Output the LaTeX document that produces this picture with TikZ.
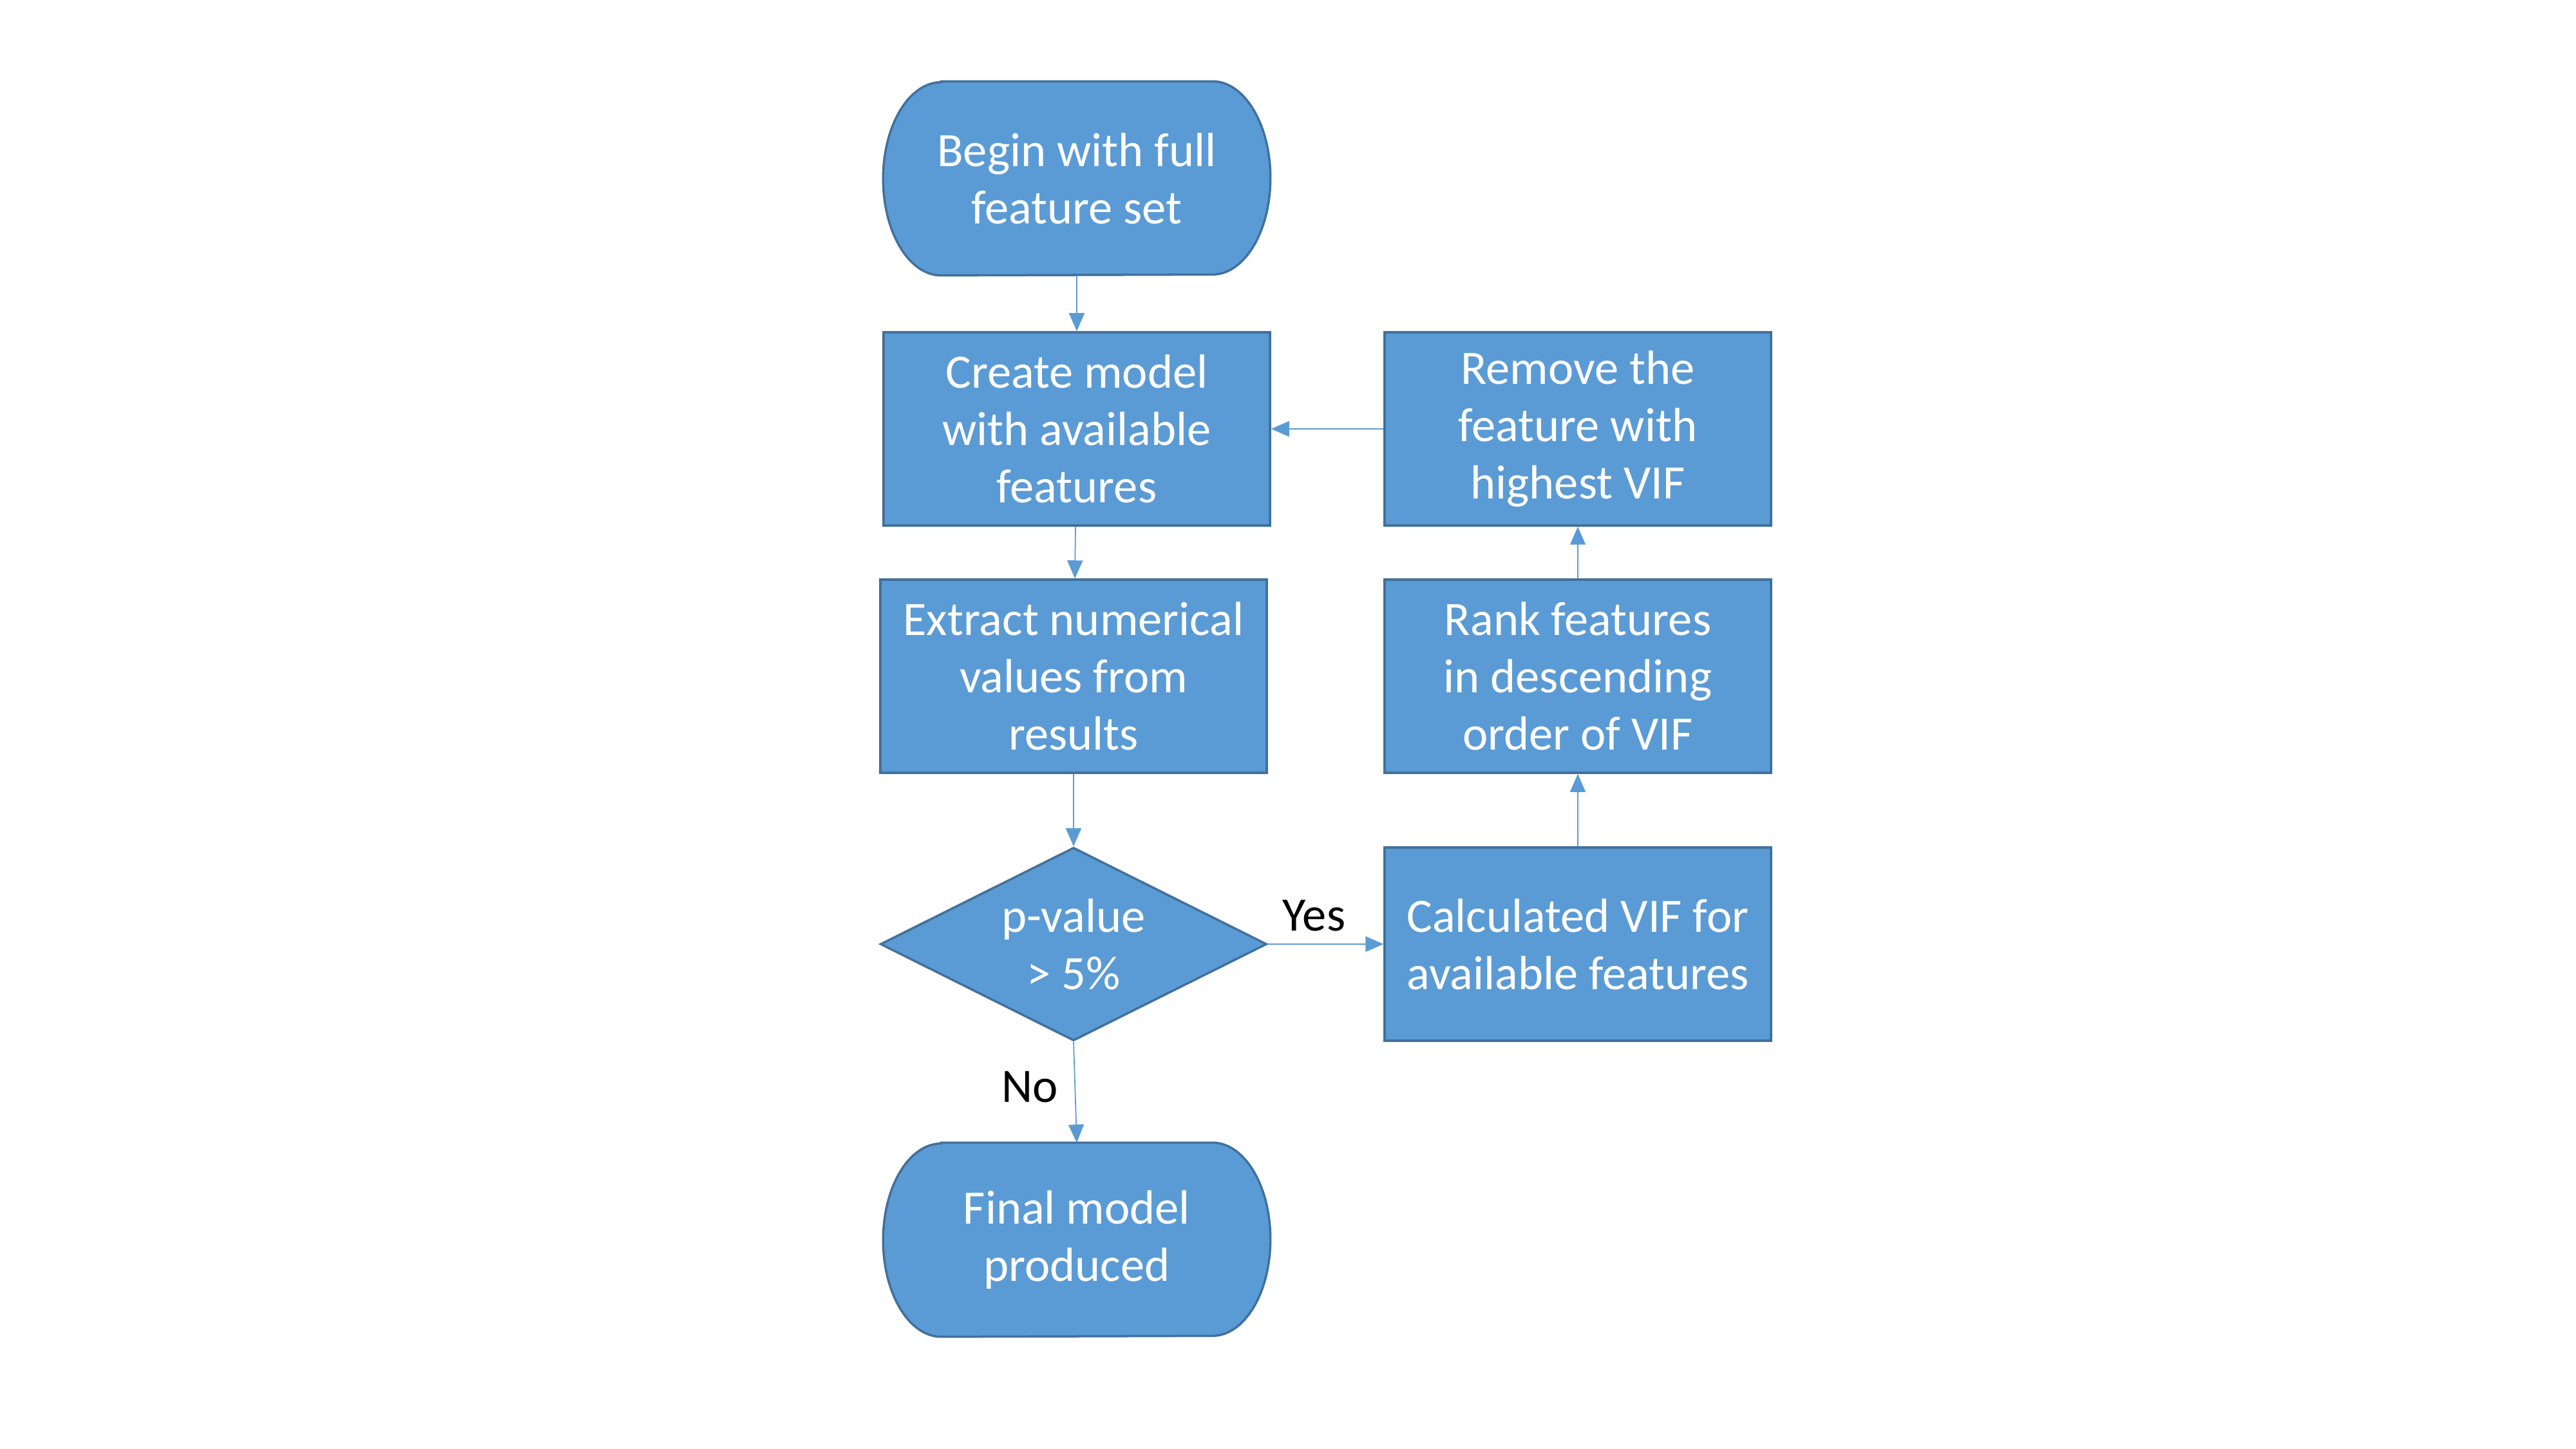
\documentclass[tikz,border=0pt]{standalone}
\usepackage{fontspec}
\setmainfont{Carlito}
\usepackage{tikz}
\usetikzlibrary{shapes.geometric, arrows.meta, backgrounds}

\definecolor{boxfill}{HTML}{5B9BD5}
\definecolor{boxline}{HTML}{41719C}

\tikzset{
  flowtext/.style={font=\fontsize{21.2}{25.3}\selectfont, text=white, align=center},
  process/.style={flowtext, rectangle, draw=boxline, fill=boxfill, line width=1pt,
    minimum width=6cm, minimum height=3cm, inner sep=2pt},
  terminal/.style={flowtext, rectangle, minimum width=6cm, minimum height=3cm, inner sep=2pt},
  decision/.style={flowtext, diamond, draw=boxline, fill=boxfill, line width=1pt,
    minimum width=6cm, minimum height=3cm, aspect=2, inner sep=0pt},
  flow/.style={draw=boxfill, line width=0.5pt, -{Triangle[length=2.8mm,width=2.4mm]}},
  branch/.style={font=\fontsize{21.2}{25.3}\selectfont, text=black}
}

% outline of a start/end node, drawn behind its text
\newcommand{\termshape}[1]{%
  \filldraw[draw=boxline, fill=boxfill, line width=1pt]
    ([xshift=0.9cm]#1.north west) -- ([xshift=-0.9cm]#1.north east)
    arc[start angle=90, end angle=-90, x radius=0.9cm, y radius=1.5cm]
    -- ([xshift=0.9cm]#1.south west)
    arc[start angle=270, end angle=90, x radius=0.9cm, y radius=1.5cm] -- cycle;}

\begin{document}
\begin{tikzpicture}
\useasboundingbox (0,0) rectangle (40,-22.5);

% left column
\node[terminal] (begin) at (16.72,-2.77) {Begin with full\\feature set};
\node[process] (create) at (16.72,-6.66) {Create model\\with available\\features};
\node[process] (extract) at (16.67,-10.50) {Extract numerical\\values from\\results};
\node[decision] (test) at (16.67,-14.66) {p-value\\> 5\%};
\node[terminal] (final) at (16.72,-19.25) {Final model\\produced};

% right column
\node[process] (remove) at (24.50,-6.66) {Remove the\\feature with\\highest VIF};
\node[process] (rank) at (24.50,-10.50) {Rank features\\in descending\\order of VIF};
\node[process] (calc) at (24.50,-14.66) {Calculated VIF for\\available features};

\begin{scope}[on background layer]
\fill[white] (0,0) rectangle (40,-22.5);
\termshape{begin}
\termshape{final}
\end{scope}

% connectors
\draw[flow] (begin) -- (create);
\draw[flow] (create) -- (extract);
\draw[flow] (extract) -- (test);
\draw[flow] (test.east) -- node[branch, above=2pt, pos=0.4] (yes) {Yes} (calc.west);
\draw[flow] (test.south) -- node[branch, left=4pt, pos=0.45] (no) {No} (final.north);
\draw[flow] (calc) -- (rank);
\draw[flow] (rank) -- (remove);
\draw[flow] (remove) -- (create);
\end{tikzpicture}
\end{document}
